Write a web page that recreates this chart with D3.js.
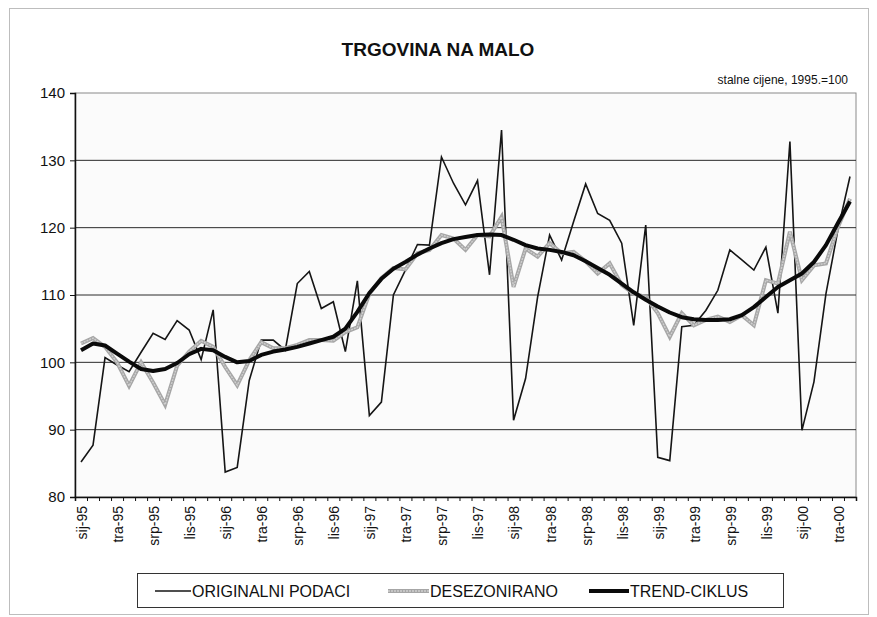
<!DOCTYPE html>
<html>
<head>
<meta charset="utf-8">
<script src="https://cdn.jsdelivr.net/npm/d3@7"></script>
<style>
  html, body { margin: 0; padding: 0; background: #fff; }
  svg { display: block; font-family: "Liberation Sans", Arial, sans-serif; }
</style>
</head>
<body>
<svg id="chart" width="877" height="617"></svg>
<script>
// ---- data ----
const monthNames = ["sij", "velj", "ožu", "tra", "svi", "lip", "srp", "kol", "ruj", "lis", "stu", "pro"];
const years = ["95", "96", "97", "98", "99", "00"];
const tickLabels = ["sij-95","tra-95","srp-95","lis-95","sij-96","tra-96","srp-96","lis-96",
  "sij-97","tra-97","srp-97","lis-97","sij-98","tra-98","srp-98","lis-98",
  "sij-99","tra-99","srp-99","lis-99","sij-00","tra-00"];
const yTicks = [80, 90, 100, 110, 120, 130, 140];

const original = [85.2,87.7,100.7,99.6,98.6,101.5,104.3,103.4,106.2,104.8,100.4,107.8,
  83.7,84.4,97.3,103.3,103.3,101.8,111.7,113.5,108.0,109.0,101.6,112.1,
  92.1,94.1,110.0,113.7,117.5,117.4,130.5,126.6,123.4,127.0,113.0,134.5,
  91.4,97.6,109.7,118.9,115.2,120.9,126.5,122.1,121.1,117.7,105.5,120.4,
  85.9,85.4,105.3,105.5,107.7,110.7,116.7,115.2,113.7,117.1,107.3,132.8,
  89.9,97.1,110.2,119.7,127.6];
const deseasonal = [102.8,103.6,102.3,100.0,96.5,100.0,97.0,93.7,99.5,101.6,103.2,102.3,
  99.3,96.6,100.3,103.0,102.1,102.1,102.6,103.3,103.3,103.2,104.5,105.2,
  110.2,112.5,114.0,113.8,116.2,116.7,118.9,118.4,116.7,118.9,118.7,121.6,
  111.2,116.9,115.7,117.7,116.2,116.4,115.0,113.2,114.7,111.5,110.2,109.7,
  107.3,103.8,107.3,105.5,106.3,106.8,106.0,107.0,105.5,112.2,111.7,119.4,
  112.2,114.4,114.7,120.1,124.3];
const trend = [101.8,102.8,102.5,101.3,100.1,99.0,98.7,99.0,99.9,101.2,102.0,101.8,
  100.8,100.0,100.2,101.1,101.6,101.9,102.3,102.8,103.3,103.8,105.0,107.5,
  110.3,112.4,113.9,114.9,116.0,116.9,117.7,118.3,118.6,118.9,119.0,118.9,
  118.2,117.4,116.9,116.7,116.4,115.9,115.0,114.0,113.0,111.7,110.4,109.3,
  108.3,107.4,106.7,106.4,106.3,106.3,106.4,107.0,108.2,109.7,111.2,112.2,
  113.2,114.9,117.4,120.7,123.9];

const seriesNames = ["ORIGINALNI PODACI", "DESEZONIRANO", "TREND-CIKLUS"];

// categories (month labels)
const categories = [];
years.forEach(yr => monthNames.forEach(m => categories.push(m + "-" + yr)));
categories.length = original.length;

// ---- layout ----
const svg = d3.select("#chart");
const pLeft = 75, pRight = 856, pTop = 93, pBottom = 497;

// outer frame
svg.append("rect").attr("x", 9.5).attr("y", 8.5).attr("width", 859).attr("height", 606)
  .attr("fill", "#fff").attr("stroke", "#bdbdbd").attr("stroke-width", 1);

const x = d3.scaleBand().domain(categories).range([pLeft, pRight]).padding(0);
const xi = d3.scaleLinear().domain([0, categories.length]).range([pLeft, pRight]);
const y = d3.scaleLinear().domain([80, 140]).range([pBottom, pTop]);

// title
svg.append("text").attr("x", 438).attr("y", 56).attr("text-anchor", "middle")
  .attr("font-size", 19).attr("font-weight", "bold").attr("fill", "#111")
  .text("TRGOVINA NA MALO");
svg.append("text").attr("x", 848).attr("y", 84).attr("text-anchor", "end")
  .attr("font-size", 12).attr("fill", "#111").text("stalne cijene, 1995.=100");

// plot area
svg.append("rect").attr("x", pLeft).attr("y", pTop).attr("width", pRight - pLeft).attr("height", pBottom - pTop)
  .attr("fill", "#fbfbfb").attr("stroke", "#8a8a8a").attr("stroke-width", 1);

// gridlines
svg.append("g").selectAll("line").data(yTicks.filter(d => d > 80 && d < 140)).join("line")
  .attr("x1", pLeft).attr("x2", pRight).attr("y1", d => y(d)).attr("y2", d => y(d))
  .attr("stroke", "#2a2a2a").attr("stroke-width", 1);

// y axis
const yAxis = svg.append("g").attr("transform", `translate(${pLeft},0)`)
  .call(d3.axisLeft(y).tickValues(yTicks).tickSize(5).tickPadding(5));
yAxis.select(".domain").attr("stroke", "#111").attr("stroke-width", 1.5);
yAxis.selectAll(".tick line").attr("stroke", "#111");
yAxis.selectAll("text").attr("font-size", 15).attr("fill", "#111")
  .attr("font-family", "Liberation Sans, Arial, sans-serif");

// x axis: minor ticks between categories
const xTickAxis = svg.append("g").attr("transform", `translate(0,${pBottom})`)
  .call(d3.axisBottom(xi).tickValues(d3.range(0, categories.length + 1)).tickSize(4).tickFormat(""));
xTickAxis.select(".domain").attr("stroke", "#111").attr("stroke-width", 1.5);
xTickAxis.selectAll(".tick line").attr("stroke", "#111");

// x labels
const xLab = svg.append("g").attr("transform", `translate(0,${pBottom})`)
  .call(d3.axisBottom(x).tickValues(tickLabels).tickSize(0));
xLab.select(".domain").remove();
xLab.selectAll("text")
  .attr("font-size", 14).attr("fill", "#111")
  .attr("font-family", "Liberation Sans, Arial, sans-serif")
  .attr("text-anchor", "end")
  .attr("transform", "rotate(-90)")
  .attr("x", -9).attr("y", 1).attr("dy", "0.35em");

// lines
const line = data => d3.line()
  .x((d, i) => x(categories[i]) + x.bandwidth() / 2)
  .y(d => y(d))(data);

const g = svg.append("g");
g.append("path").attr("d", line(original)).attr("fill", "none")
  .attr("stroke", "#151515").attr("stroke-width", 1.6).attr("stroke-linejoin", "miter");
g.append("path").attr("d", line(deseasonal)).attr("fill", "none")
  .attr("stroke", "#a6a6a6").attr("stroke-width", 4).attr("stroke-linejoin", "miter");
g.append("path").attr("d", line(deseasonal)).attr("fill", "none")
  .attr("stroke", "#cfcfcf").attr("stroke-width", 1.4).attr("stroke-dasharray", "2,1");
g.append("path").attr("d", line(trend)).attr("fill", "none")
  .attr("stroke", "#0a0a0a").attr("stroke-width", 4).attr("stroke-linejoin", "round");

// legend
const lg = svg.append("g");
lg.append("rect").attr("x", 137.5).attr("y", 573.5).attr("width", 646).attr("height", 34)
  .attr("fill", "#fff").attr("stroke", "#333").attr("stroke-width", 1);
const legendItems = [
  {name: seriesNames[0], x1: 155, x2: 191, stroke: "#151515", w: 1.6},
  {name: seriesNames[1], x1: 388, x2: 429, stroke: "#a6a6a6", w: 4},
  {name: seriesNames[2], x1: 589, x2: 629, stroke: "#0a0a0a", w: 4}
];
legendItems.forEach(it => {
  lg.append("line").attr("x1", it.x1).attr("x2", it.x2).attr("y1", 591).attr("y2", 591)
    .attr("stroke", it.stroke).attr("stroke-width", it.w);
  if (it.name === seriesNames[1]) {
    lg.append("line").attr("x1", it.x1).attr("x2", it.x2).attr("y1", 591).attr("y2", 591)
      .attr("stroke", "#cfcfcf").attr("stroke-width", 1.4).attr("stroke-dasharray", "2,1");
  }
  lg.append("text").attr("x", it.x2 + 1).attr("y", 596.5).attr("font-size", 16)
    .attr("fill", "#111").text(it.name);
});
</script>
</body>
</html>
